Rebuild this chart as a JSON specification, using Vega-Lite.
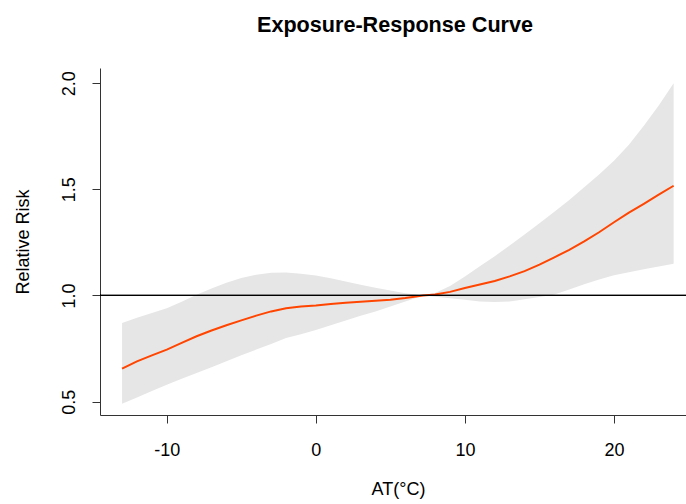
{
  "$schema": "https://vega.github.io/schema/vega-lite/v6.json",
  "autosize": "none",
  "width": 586,
  "height": 347,
  "padding": {"left": 100, "top": 68, "right": 0, "bottom": 89},
  "background": "white",
  "config": {
    "font": "Liberation Sans",
    "view": {"stroke": null}
  },
  "title": {
    "text": "Exposure-Response Curve",
    "font": "Liberation Sans",
    "fontSize": 21.6,
    "fontWeight": "bold",
    "color": "black",
    "anchor": "middle",
    "dx": 2,
    "baseline": "alphabetic",
    "offset": 14
  },
  "data": {
    "values": [
      {"t": -13, "lo": 0.49, "rr": 0.655, "hi": 0.87},
      {"t": -12, "lo": 0.52, "rr": 0.69, "hi": 0.895},
      {"t": -11, "lo": 0.55, "rr": 0.718, "hi": 0.918},
      {"t": -10, "lo": 0.58, "rr": 0.745, "hi": 0.94},
      {"t": -9, "lo": 0.608, "rr": 0.777, "hi": 0.97},
      {"t": -8, "lo": 0.635, "rr": 0.808, "hi": 1.003},
      {"t": -7, "lo": 0.662, "rr": 0.835, "hi": 1.033},
      {"t": -6, "lo": 0.69, "rr": 0.86, "hi": 1.06},
      {"t": -5, "lo": 0.718, "rr": 0.883, "hi": 1.082},
      {"t": -4, "lo": 0.745, "rr": 0.905, "hi": 1.098},
      {"t": -3, "lo": 0.772, "rr": 0.925, "hi": 1.107},
      {"t": -2, "lo": 0.8, "rr": 0.94, "hi": 1.108},
      {"t": -1, "lo": 0.818, "rr": 0.948, "hi": 1.103},
      {"t": 0, "lo": 0.838, "rr": 0.953, "hi": 1.094},
      {"t": 1, "lo": 0.86, "rr": 0.96, "hi": 1.081},
      {"t": 2, "lo": 0.882, "rr": 0.966, "hi": 1.066},
      {"t": 3, "lo": 0.905, "rr": 0.971, "hi": 1.051},
      {"t": 4, "lo": 0.925, "rr": 0.975, "hi": 1.037},
      {"t": 5, "lo": 0.948, "rr": 0.98, "hi": 1.023},
      {"t": 6, "lo": 0.972, "rr": 0.988, "hi": 1.01},
      {"t": 7.2, "lo": 1.0, "rr": 1.0, "hi": 1.0},
      {"t": 8, "lo": 0.994, "rr": 1.005, "hi": 1.012},
      {"t": 9, "lo": 0.987, "rr": 1.017, "hi": 1.045},
      {"t": 10, "lo": 0.98, "rr": 1.035, "hi": 1.09},
      {"t": 11, "lo": 0.972, "rr": 1.052, "hi": 1.138},
      {"t": 12, "lo": 0.969, "rr": 1.068, "hi": 1.185},
      {"t": 13, "lo": 0.972, "rr": 1.09, "hi": 1.235},
      {"t": 14, "lo": 0.982, "rr": 1.115, "hi": 1.287},
      {"t": 15, "lo": 0.993, "rr": 1.145, "hi": 1.34},
      {"t": 16, "lo": 1.005, "rr": 1.18, "hi": 1.395},
      {"t": 17, "lo": 1.028, "rr": 1.215, "hi": 1.45},
      {"t": 18, "lo": 1.053, "rr": 1.255, "hi": 1.51},
      {"t": 19, "lo": 1.075, "rr": 1.298, "hi": 1.57},
      {"t": 20, "lo": 1.095, "rr": 1.345, "hi": 1.635},
      {"t": 21, "lo": 1.11, "rr": 1.39, "hi": 1.71},
      {"t": 22, "lo": 1.124, "rr": 1.432, "hi": 1.8},
      {"t": 23, "lo": 1.137, "rr": 1.475, "hi": 1.895},
      {"t": 24, "lo": 1.149, "rr": 1.517, "hi": 2.0}
    ]
  },
  "layer": [
    {
      "mark": {"type": "area", "color": "#E6E6E6", "opacity": 1},
      "encoding": {
        "x": {
          "field": "t",
          "type": "quantitative",
          "scale": {"domain": [-14.48, 24.83], "nice": false, "zero": false},
          "axis": {
            "title": "AT(°C)",
            "values": [-10, 0, 10, 20],
            "labelExpr": "'' + datum.value",
            "grid": false,
            "domainColor": "#333333",
            "tickColor": "#333333",
            "tickSize": 8,
            "labelFontSize": 18,
            "labelColor": "black",
            "labelPadding": 18,
            "titleFontSize": 18,
            "titleFontWeight": "normal",
            "titleColor": "black",
            "titlePadding": 21,
            "titleX": 298,
            "titleAnchor": "middle"
          }
        },
        "y": {
          "field": "lo",
          "type": "quantitative",
          "scale": {"domain": [0.437, 2.0717], "nice": false, "zero": false},
          "axis": {
            "title": "Relative Risk",
            "values": [0.5, 1.0, 1.5, 2.0],
            "format": ".1f",
            "grid": false,
            "domainColor": "#333333",
            "tickColor": "#333333",
            "tickSize": 8,
            "labelAngle": 270,
            "labelFontSize": 18,
            "labelColor": "black",
            "labelPadding": 14,
            "titleFontSize": 18,
            "titleFontWeight": "normal",
            "titleColor": "black",
            "titlePadding": 28
          }
        },
        "y2": {"field": "hi"}
      }
    },
    {
      "mark": {"type": "line", "color": "#FF4500", "strokeWidth": 2},
      "encoding": {
        "x": {"field": "t", "type": "quantitative"},
        "y": {"field": "rr", "type": "quantitative"}
      }
    },
    {
      "mark": {"type": "rule", "color": "black", "strokeWidth": 1},
      "encoding": {"y": {"datum": 1}}
    }
  ]
}
